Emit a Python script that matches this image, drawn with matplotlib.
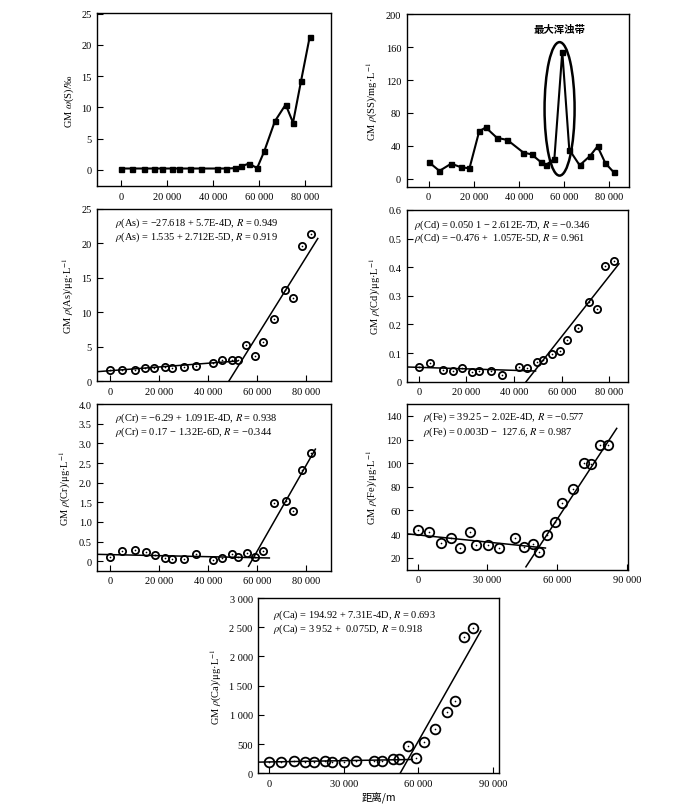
import matplotlib
matplotlib.use("Agg")
import matplotlib.pyplot as plt
from matplotlib.patches import Ellipse
from matplotlib.ticker import FuncFormatter

plt.rcParams['font.family'] = ['Liberation Serif', 'Noto Sans CJK SC', 'DejaVu Sans']
plt.rcParams['mathtext.fontset'] = 'stix'
plt.rcParams['axes.unicode_minus'] = True

# ---------------- data ----------------
distance = [0, 4800, 10000, 14400, 18100, 22400, 25300, 30200, 34900, 42000, 45600,
            49800, 52200, 55700, 59200, 62300, 66900, 71600, 74800, 78300, 82000]

S = [0.2, 0.2, 0.2, 0.2, 0.2, 0.2, 0.2, 0.2, 0.2, 0.2, 0.2,
     0.26, 0.53, 1.0, 0.26, 2.95, 7.75, 10.44, 7.54, 14.24, 21.2]
SS = [20.6, 9.7, 18.5, 14.1, 12.9, 57.7, 62.5, 50.0, 47.2, 31.9, 29.8,
      20.2, 17.3, 24.6, 154.4, 35.5, 16.5, 28.2, 39.5, 19.0, 8.0]
As = [1.69, 1.69, 1.69, 1.89, 1.93, 2.03, 1.98, 2.08, 2.18, 2.66, 3.09,
      3.09, 3.05, 5.27, 3.63, 5.66, 9.0, 13.2, 12.04, 19.6, 21.37]
Cd = [0.052, 0.065, 0.040, 0.037, 0.049, 0.033, 0.038, 0.038, 0.024, 0.052, 0.047,
      0.069, 0.077, 0.098, 0.108, 0.146, 0.188, 0.277, 0.254, 0.403, 0.421]
Cr = [0.12, 0.25, 0.29, 0.23, 0.15, 0.09, 0.06, 0.06, 0.19, 0.04, 0.08,
      0.18, 0.12, 0.20, 0.11, 0.26, 1.49, 1.53, 1.27, 2.31, 2.76]
Fe = [43.7, 41.5, 32.4, 36.9, 27.9, 42.0, 30.4, 30.4, 28.5, 36.4, 29.0,
      31.6, 24.5, 39.2, 50.5, 66.6, 78.4, 100.5, 99.6, 115.1, 115.7]
Ca = [188, 200, 205, 194, 194, 217, 194, 200, 217, 205, 205,
      240, 251, 462, 262, 542, 764, 1055, 1232, 2338, 2481]

# fit lines: (intercept, slope) and x-extent
As_fits = [(1.535, 2.712e-5, None, 52000), (-27.618, 5.7e-4, 48450, 84800)]
Cd_fits = [(0.0501, -2.612e-7, None, 49000), (-0.476, 1.057e-5, 45000, 84000)]
Cr_fits = [(0.17, -1.32e-6, None, 65000), (-6.29, 1.091e-4, 56500, 83800)]
Fe_fits = [(39.25, -2.02e-4, None, 55000), (-127.6, 0.003, 46600, 85700)]
Ca_fits = [(194.92, 7.31e-4, None, 57600), (-3952, 0.075, 52700, 85200)]

As_eq = [r"$\rho$(As) = −27.618 + 5.7E-4D, $R$ = 0.949",
         r"$\rho$(As) = 1.535 + 2.712E-5D, $R$ = 0.919"]
Cd_eq = [r"$\rho$(Cd) = 0.050 1 − 2.612E-7D, $R$ = −0.346",
         r"$\rho$(Cd) = −0.476 +  1.057E-5D, $R$ = 0.961"]
Cr_eq = [r"$\rho$(Cr) = −6.29 + 1.091E-4D, $R$ = 0.938",
         r"$\rho$(Cr) = 0.17 − 1.32E-6D, $R$ = −0.344"]
Fe_eq = [r"$\rho$(Fe) = 39.25 − 2.02E-4D, $R$ = −0.577",
         r"$\rho$(Fe) = 0.003D −  127.6, $R$ = 0.987"]
Ca_eq = [r"$\rho$(Ca) = 194.92 + 7.31E-4D, $R$ = 0.693",
         r"$\rho$(Ca) = 3 952 +  0.075D, $R$ = 0.918"]

FS = 7.5


def fmt_thousands(v, pos=None):
    if abs(v - round(v)) < 1e-9:
        s = f"{int(round(v)):,}".replace(",", " ")
        return s.replace("-", "−")
    s = f"{v:g}"
    return s


def style(ax, xlim, ylim, xticks, yticks, yfmt=None):
    ax.set_xlim(*xlim)
    ax.set_ylim(*ylim)
    ax.set_xticks(xticks)
    ax.set_yticks(yticks)
    ax.xaxis.set_major_formatter(FuncFormatter(fmt_thousands))
    if yfmt is None:
        ax.yaxis.set_major_formatter(FuncFormatter(fmt_thousands))
    else:
        ax.yaxis.set_major_formatter(FuncFormatter(yfmt))
    ax.tick_params(direction='in', length=4, width=0.8, labelsize=FS, pad=4)
    for sp in ax.spines.values():
        sp.set_linewidth(1.0)


def circles(ax, x, y, ms):
    ax.plot(x, y, ls='none', marker='o', ms=ms, mfc='none', mec='black', mew=1.3, zorder=3)
    ax.plot(x, y, ls='none', marker='o', ms=1.2, mfc='black', mec='black', mew=0, zorder=4)


def fits(ax, fit_list, xleft):
    for b, m, x0, x1 in fit_list:
        xa = xleft if x0 is None else x0
        ax.plot([xa, x1], [b + m * xa, b + m * x1], color='black', lw=1.1, zorder=2)


def eqs(ax, lines, x, y0, y1):
    ax.text(x, y0, lines[0], transform=ax.transAxes, fontsize=FS, va='center', ha='left')
    ax.text(x, y1, lines[1], transform=ax.transAxes, fontsize=FS, va='center', ha='left')


def dec1(v, pos=None):
    if abs(v) < 1e-9:
        return "0"
    return f"{v:.1f}"


fig = plt.figure(figsize=(7, 8.12), dpi=100)

# Panel 1: S
ax1 = fig.add_axes([0.1386, 0.7697, 0.3343, 0.2131])
ax1.plot(distance, S, color='black', lw=1.5, marker='s', ms=3.6, mfc='black', mec='black')
style(ax1, (-10300, 91300), (-2.6, 25.1), [0, 20000, 40000, 60000, 80000], [0, 5, 10, 15, 20, 25])
ax1.set_ylabel(r"GM $\omega$(S)/‰", fontsize=FS)

# Panel 2: SS
ax2 = fig.add_axes([0.581, 0.7688, 0.3171, 0.2131])
ax2.plot(distance, SS, color='black', lw=1.5, marker='s', ms=3.6, mfc='black', mec='black')
ax2.add_patch(Ellipse((58000, 85), 13300, 162, fill=False, lw=1.8, ec='black'))
ax2.text(58000, 182, "最大浑浊带", ha='center', va='center', fontsize=FS,
         family=['Noto Sans CJK SC'], fontweight='bold')
style(ax2, (-9700, 88600), (-9.5, 200.5), [0, 20000, 40000, 60000, 80000], [0, 40, 80, 120, 160, 200])
ax2.set_ylabel(r"GM $\rho$(SS)/mg·L$^{-1}$", fontsize=FS)

# Panel 3: As
ax3 = fig.add_axes([0.1386, 0.5292, 0.3343, 0.2122])
xl = (-5300, 90200)
circles(ax3, distance, As, 5.2)
fits(ax3, As_fits, xl[0])
style(ax3, xl, (0, 25), [0, 20000, 40000, 60000, 80000], [0, 5, 10, 15, 20, 25])
eqs(ax3, As_eq, 0.077, 0.923, 0.842)
ax3.set_ylabel(r"GM $\rho$(As)/μg·L$^{-1}$", fontsize=FS)

# Panel 4: Cd
ax4 = fig.add_axes([0.5819, 0.5287, 0.3153, 0.2115])
xl = (-4800, 87800)
circles(ax4, distance, Cd, 5.2)
fits(ax4, Cd_fits, xl[0])
style(ax4, xl, (0, 0.6), [0, 20000, 40000, 60000, 80000], [0, 0.1, 0.2, 0.3, 0.4, 0.5, 0.6], dec1)
eqs(ax4, Cd_eq, 0.03, 0.918, 0.841)
ax4.set_ylabel(r"GM $\rho$(Cd)/μg·L$^{-1}$", fontsize=FS)

# Panel 5: Cr
ax5 = fig.add_axes([0.139, 0.2959, 0.3339, 0.2053])
xl = (-5300, 90200)
circles(ax5, distance, Cr, 5.2)
fits(ax5, Cr_fits, xl[0])
style(ax5, xl, (-0.24, 4.0), [0, 20000, 40000, 60000, 80000],
      [0, 0.5, 1.0, 1.5, 2.0, 2.5, 3.0, 3.5, 4.0], dec1)
eqs(ax5, Cr_eq, 0.074, 0.92, 0.836)
ax5.set_ylabel(r"GM $\rho$(Cr)/μg·L$^{-1}$", fontsize=FS)

# Panel 6: Fe
ax6 = fig.add_axes([0.581, 0.2972, 0.3157, 0.2041])
xl = (-4740, 90430)
circles(ax6, distance, Fe, 6.8)
fits(ax6, Fe_fits, xl[0])
style(ax6, xl, (9.8, 150.2), [0, 30000, 60000, 90000], [20, 40, 60, 80, 100, 120, 140])
eqs(ax6, Fe_eq, 0.075, 0.923, 0.837)
ax6.set_ylabel(r"GM $\rho$(Fe)/μg·L$^{-1}$", fontsize=FS)

# Panel 7: Ca
ax7 = fig.add_axes([0.369, 0.0464, 0.3434, 0.2159])
xl = (-4430, 92400)
circles(ax7, distance, Ca, 7.0)
fits(ax7, Ca_fits, xl[0])
style(ax7, xl, (0, 3000), [0, 30000, 60000, 90000], [0, 500, 1000, 1500, 2000, 2500, 3000])
eqs(ax7, Ca_eq, 0.062, 0.909, 0.829)
ax7.set_ylabel(r"GM $\rho$(Ca)/μg·L$^{-1}$", fontsize=FS)
ax7.set_xlabel("距离/m", fontsize=FS, family=['Noto Sans CJK SC'], labelpad=3)

fig.savefig("out.png", dpi=100)
